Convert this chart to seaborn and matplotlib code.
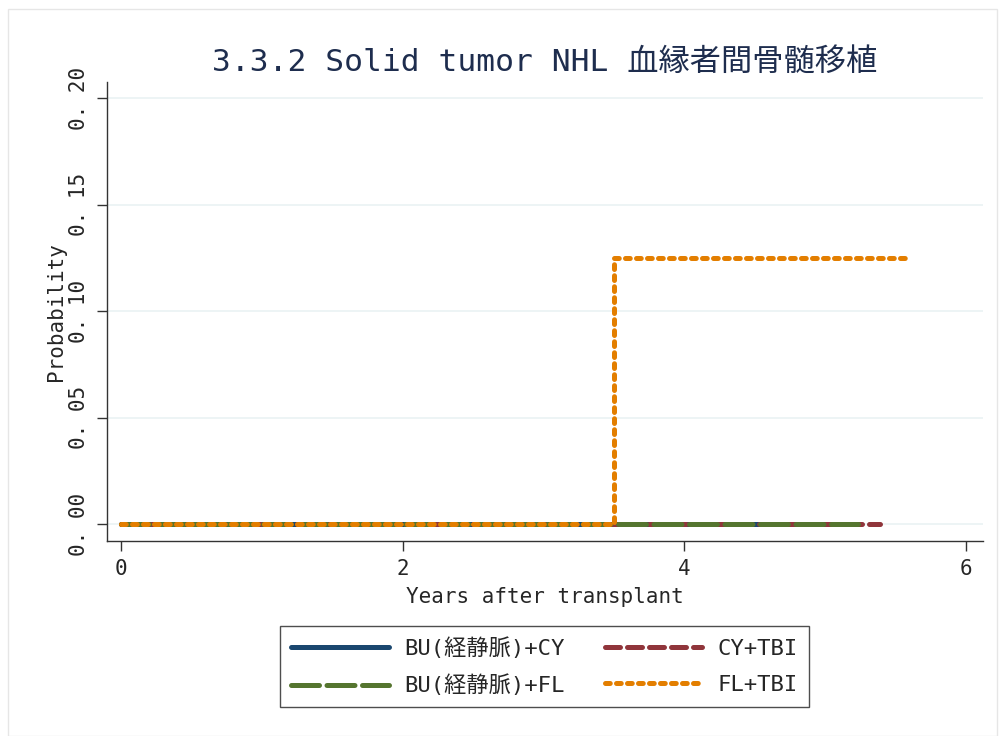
import matplotlib
matplotlib.use("Agg")
import matplotlib.pyplot as plt
import seaborn as sns
import pandas as pd

# Cumulative incidence step curves by conditioning regimen
groups = ["BU(経静脈)+CY", "CY+TBI", "BU(経静脈)+FL", "FL+TBI"]
bu_cy_t = [0.0, 5.20]
bu_cy_p = [0.0, 0.0]
cy_tbi_t = [0.0, 5.39]
cy_tbi_p = [0.0, 0.0]
bu_fl_t = [0.0, 5.23]
bu_fl_p = [0.0, 0.0]
fl_tbi_t = [0.0, 3.50, 5.57]
fl_tbi_p = [0.0, 0.125, 0.125]

x_ticks = [0, 2, 4, 6]
y_ticks = [0.00, 0.05, 0.10, 0.15, 0.20]
y_tick_labels = ["0. 00", "0. 05", "0. 10", "0. 15", "0. 20"]

sns.set_theme(style="white")
mono = ["DejaVu Sans Mono", "Noto Sans CJK JP"]
plt.rcParams["font.family"] = mono

series = {
    "BU(経静脈)+CY": (bu_cy_t, bu_cy_p),
    "CY+TBI": (cy_tbi_t, cy_tbi_p),
    "BU(経静脈)+FL": (bu_fl_t, bu_fl_p),
    "FL+TBI": (fl_tbi_t, fl_tbi_p),
}
colors = {
    "BU(経静脈)+CY": "#1a476f",
    "CY+TBI": "#90353b",
    "BU(経静脈)+FL": "#55752f",
    "FL+TBI": "#e37e00",
}
# dash patterns in units of line width (round caps add one width per dash)
dash_styles = {
    "BU(経静脈)+CY": None,
    "CY+TBI": (3.0, 1.4),
    "BU(経静脈)+FL": (5.6, 1.5),
    "FL+TBI": (0.95, 1.25),
}

fig = plt.figure(figsize=(9.99, 7.36), dpi=100)
ax = fig.add_axes([0.107, 0.265, 0.877, 0.623])

handles = {}
for name in groups:
    t, p = series[name]
    df = pd.DataFrame({"t": t, "p": p})
    sns.lineplot(data=df, x="t", y="p", drawstyle="steps-post",
                 color=colors[name], linewidth=3.6, ax=ax, zorder=3,
                 legend=False)
    line = ax.lines[-1]
    line.set_solid_capstyle("round")
    line.set_dash_capstyle("round")
    if dash_styles[name] is not None:
        line.set_dashes(dash_styles[name])
    line.set_label(name)
    handles[name] = line

if ax.get_legend() is not None:
    ax.get_legend().remove()

ax.set_xlim(-0.1, 6.12)
ax.set_ylim(-0.008, 0.2075)
ax.set_xticks(x_ticks)
ax.set_xticklabels([str(v) for v in x_ticks], fontsize=15)
ax.set_yticks(y_ticks)
ax.set_yticklabels(y_tick_labels, fontsize=15, rotation=90, va="center")

for v in y_ticks:
    ax.axhline(v, color="#eaf2f3", linewidth=1.2, zorder=1)

for side in ["top", "right"]:
    ax.spines[side].set_visible(False)
for side in ["left", "bottom"]:
    ax.spines[side].set_color("#333333")
    ax.spines[side].set_linewidth(1.0)
ax.tick_params(axis="both", direction="out", length=7, width=1,
               color="#333333", bottom=True, left=True, pad=6)

ax.set_xlabel("Years after transplant", fontsize=15, labelpad=6)
ax.set_ylabel("Probability", fontsize=15, labelpad=2)
ax.set_title("3.3.2 Solid tumor NHL 血縁者間骨髄移植", fontsize=22.5,
             color="#1e2d4e", pad=8, family=mono)

order = ["BU(経静脈)+CY", "BU(経静脈)+FL", "CY+TBI", "FL+TBI"]
leg = fig.legend([handles[n] for n in order], order, ncol=2,
                 loc="center", bbox_to_anchor=(0.545, 0.094),
                 fontsize=16, frameon=True, fancybox=False,
                 handlelength=4.4, columnspacing=1.8, handletextpad=0.7,
                 borderpad=0.5, labelspacing=0.7, edgecolor="#222222")
leg.get_frame().set_linewidth(1.0)

# faint outer frame
fig.patches.append(plt.Rectangle((0.008, 0.0), 0.99, 0.988, transform=fig.transFigure,
                                 fill=False, edgecolor="#e6e6e6", linewidth=1.0))

fig.savefig("out.png", dpi=100, facecolor="white")
